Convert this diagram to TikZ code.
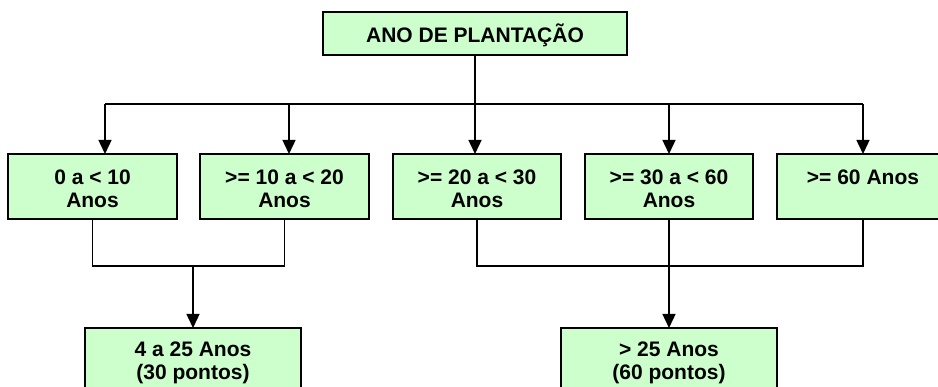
\documentclass[tikz,border=0pt]{standalone}
\usepackage{fontspec}
\setmainfont{Liberation Sans}
\usetikzlibrary{arrows.meta}
\definecolor{boxgreen}{HTML}{CCFFCC}
\tikzset{
  box/.style={draw=black, line width=1.8pt, fill=boxgreen, rectangle, inner sep=0pt, outer sep=0pt, anchor=north west},
  txt/.style={align=center, anchor=base, inner sep=0pt, font=\bfseries\fontsize{21}{23}\selectfont},
  conn/.style={draw=black, line width=1.4pt},
  arr/.style={conn, -{Triangle[width=13pt,length=14pt]}}
}
\begin{document}
\begin{tikzpicture}[x=1pt,y=-1pt]
\useasboundingbox (0,0) rectangle (938,387);
\clip (0,0) rectangle (938,387);
% top box
\node[box, minimum width=304pt, minimum height=43pt] (top) at (323,12) {};
\node[txt] (ttop) at (475,42.5) {ANO DE PLANTAÇÃO};
% row boxes
\node[box, minimum width=169pt, minimum height=65pt] (b1) at (8,154) {};
\node[box, minimum width=169pt, minimum height=65pt] (b2) at (200,154) {};
\node[box, minimum width=168pt, minimum height=65pt] (b3) at (393,154) {};
\node[box, minimum width=168pt, minimum height=65pt] (b4) at (585,154) {};
\node[box, minimum width=172pt, minimum height=65pt] (b5) at (777,154) {};
\node[txt] (t1) at (b1.north |- 0,208) {0 a < 10\\Anos};
\node[txt] (t2) at (b2.north |- 0,208) {>= 10 a < 20\\Anos};
\node[txt] (t3) at (b3.north |- 0,208) {>= 20 a < 30\\Anos};
\node[txt] (t4) at (b4.north |- 0,208) {>= 30 a < 60\\Anos};
\node[txt] (t5) at (b5.north |- 0,185) {>= 60 Anos};
% bottom boxes
\node[box, minimum width=216pt, minimum height=80pt] (L) at (85,328) {};
\node[box, minimum width=216pt, minimum height=80pt] (R) at (561,328) {};
\node[txt] (tL) at (L.north |- 0,380) {4 a 25 Anos\\(30 pontos)};
\node[txt] (tR) at (R.north |- 0,380) {> 25 Anos\\(60 pontos)};
% top connectors
\coordinate (a1) at (105,104);
\coordinate (a2) at (289,104);
\coordinate (a3) at (top.south |- a1);
\coordinate (a4) at (669,104);
\coordinate (a5) at (863,104);
\draw[conn] (top.south) -- (a3);
\draw[conn] (a1) -- (a5);
\draw[arr] (a1) -- (a1 |- b1.north);
\draw[arr] (a2) -- (a2 |- b2.north);
\draw[arr] (a3) -- (a3 |- b3.north);
\draw[arr] (a4) -- (a4 |- b4.north);
\draw[arr] (a5) -- (a5 |- b5.north);
% bottom connectors
\coordinate (jl) at (L.north |- 0,266);
\coordinate (jr) at (b4.south |- 0,266);
\draw[conn] (b1.south) |- (jl) -| (b2.south);
\draw[arr] (jl) -- (L.north);
\draw[conn] (b3.south) |- (jr) -| (b5.south);
\draw[arr] (b4.south) -- (R.north);
\end{tikzpicture}
\end{document}
